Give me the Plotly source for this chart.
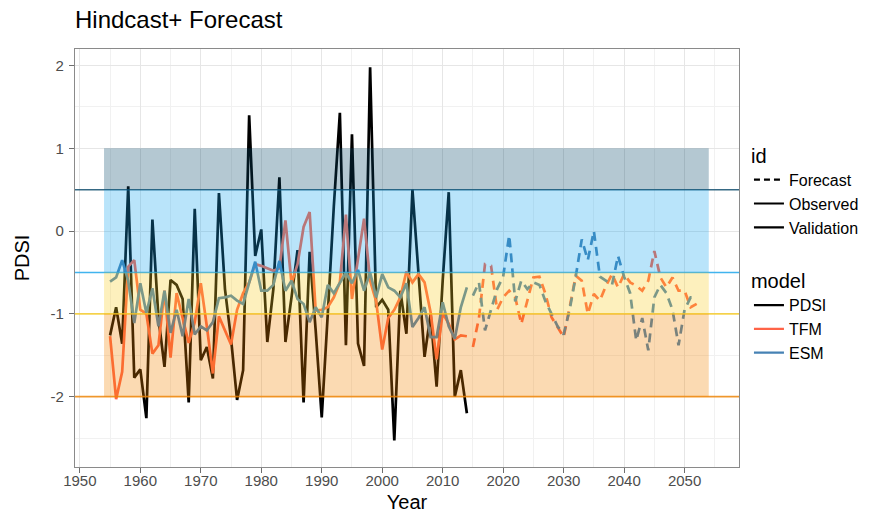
import plotly.graph_objects as go

# ---- data -------------------------------------------------------------
hind_years = list(range(1955, 2015))
fc_years = list(range(2015, 2053))

pdsi_obs = [
    -1.26, -0.92, -1.36, 0.54, -1.77, -1.67, -2.26, 0.14, -1.05, -1.64,
    -0.59, -0.65, -0.82, -2.07, 0.27, -1.56, -1.40, -1.78, 0.46, -0.70,
    -1.30, -2.04, -1.68, 1.40, -0.30, 0.02, -1.34, -0.70, 0.65, -1.34,
    -0.80, -0.23, -2.07, -0.25, -1.20, -2.25, -1.00, 0.30, 1.43, -1.38,
    1.17, -1.36, -1.63, 1.98, -0.92, -0.83, -0.95, -2.53, -0.72, -1.24,
    0.50, -0.55, -1.52, -1.00, -1.88, -0.60, 0.47, -2.00, -1.68, -2.20,
]

tfm_val = [
    -1.27, -2.03, -1.70, -0.43, -0.35, -0.95, -1.00, -1.48, -1.38, -0.72,
    -1.53, -0.75, -1.05, -1.35, -1.10, -0.63, -1.15, -1.72, -1.03, -1.20,
    -1.37, -0.95, -0.75, -0.62, -0.40, -0.42, -0.45, -0.48, -0.45, 0.13,
    -0.63, -0.40, 0.05, 0.23, -0.96, -0.95, -0.92, -0.80, -0.62, 0.20,
    -0.82, -0.35, 0.15, -0.60, -0.85, -1.43, -1.05, -0.95, -0.80, -0.49,
    -0.62, -0.52, -0.62, -0.98, -1.55, -0.99, -1.12, -1.31, -1.26, -1.27,
]

esm_val = [
    -0.61, -0.56, -0.35, -0.60, -1.11, -0.63, -0.99, -0.69, -1.15, -0.72,
    -1.23, -0.95, -1.27, -0.82, -1.25, -1.15, -1.20, -1.10, -0.81, -0.80,
    -0.78, -0.84, -0.88, -0.62, -0.37, -0.72, -0.72, -0.65, -0.36, -0.72,
    -0.60, -0.82, -0.88, -1.10, -0.92, -1.04, -0.65, -0.75, -0.63, -0.50,
    -0.63, -0.47, -0.72, -0.50, -0.80, -0.52, -0.68, -0.72, -0.80, -0.63,
    -1.16, -1.05, -0.92, -1.28, -1.28, -0.86, -1.15, -1.30, -0.92, -0.68,
]

tfm_fc = [
    -1.40, -1.05, -0.40, -0.42, -0.95, -0.80, -0.72, -0.80, -1.12, -0.85,
    -0.56, -0.55, -0.76, -1.04, -1.16, -1.28, -0.92, -0.54, -0.60, -1.00,
    -0.76, -0.84, -0.66, -0.52, -0.68, -0.52, -0.62, -0.66, -0.72, -0.60,
    -0.24, -0.56, -0.68, -0.56, -0.72, -0.72, -0.92, -0.88,
]

esm_fc = [
    -0.78, -0.62, -1.20, -0.95, -0.70, -0.55, -0.05, -0.85, -0.60, -0.70,
    -0.62, -0.65, -0.85, -1.00, -1.15, -1.25, -0.95, -0.55, -0.10, -0.35,
    0.00, -0.55, -0.60, -0.65, -0.30, -0.55, -0.75, -1.32, -1.05, -1.44,
    -0.80, -0.65, -0.75, -0.95, -1.38, -0.95, -0.80, -0.80,
]

# drought classes: (lower, upper, fill colour)
band_lo = [0.5, -0.5, -1.0, -2.0]
band_hi = [1.0, 0.5, -0.5, -1.0]
band_col = ["rgb(8,72,105)", "rgb(22,165,238)", "rgb(248,205,38)", "rgb(242,132,0)"]
band_x0, band_x1 = 1954, 2054

x_ticks = list(range(1950, 2051, 10))
y_ticks = [-2, -1, 0, 1, 2]
y_tick_text = ["-2", "-1", "0", "1", "2"]

# ---- styling ----------------------------------------------------------
FONT = "Liberation Sans, Arial, Helvetica, sans-serif"
model_col = {"PDSI": "black", "TFM": "tomato", "ESM": "steelblue"}
LW = 2.7
DASH = "9px,6px"

fig = go.Figure()

series = [
    (hind_years, pdsi_obs, "PDSI", "solid"),
    (hind_years, tfm_val, "TFM", "solid"),
    (hind_years, esm_val, "ESM", "solid"),
    (fc_years, tfm_fc, "TFM", DASH),
    (fc_years, esm_fc, "ESM", DASH),
]
for xs, ys, model, dash in series:
    fig.add_trace(go.Scatter(
        x=xs, y=ys, mode="lines", showlegend=False, hoverinfo="skip",
        line=dict(color=model_col[model], width=LW, dash=dash),
    ))

# legend entries: line type by id, colour by model
for name, dash in [("Forecast", "6px,4px"), ("Observed", "solid"), ("Validation", "solid")]:
    fig.add_trace(go.Scatter(
        x=[None], y=[None], mode="lines", name=name, legend="legend",
        line=dict(color="black", width=2.2, dash=dash),
    ))
for name in ["PDSI", "TFM", "ESM"]:
    fig.add_trace(go.Scatter(
        x=[None], y=[None], mode="lines", name=name, legend="legend2",
        line=dict(color=model_col[name], width=2.2),
    ))

# translucent class bands drawn over the series, with a line at each lower bound
for lo, hi, col in zip(band_lo, band_hi, band_col):
    fig.add_shape(type="rect", xref="x", yref="y", x0=band_x0, x1=band_x1,
                  y0=lo, y1=hi, fillcolor=col, opacity=0.3,
                  line=dict(width=0), layer="above")
    fig.add_shape(type="line", xref="paper", yref="y", x0=0, x1=1,
                  y0=lo, y1=lo, opacity=0.8,
                  line=dict(color=col, width=1.6), layer="above")

axis_common = dict(
    showline=True, mirror=True, linecolor="#8a8a8a", linewidth=1.2,
    ticks="outside", ticklen=5, tickcolor="#6e6e6e", tickwidth=1,
    tickfont=dict(family=FONT, size=15, color="#4d4d4d"),
    showgrid=True, gridcolor="#e6e6e6", gridwidth=1.2, zeroline=False,
    automargin=False,
)

fig.update_layout(
    width=877, height=514,
    margin=dict(l=75, r=138, t=49, b=47, autoexpand=False),
    paper_bgcolor="white", plot_bgcolor="white",
    font=dict(family=FONT, color="black"),
    title=dict(text="Hindcast+ Forecast", x=0.0855, xanchor="left",
               y=0.962, yanchor="middle", xref="container",
               font=dict(family=FONT, size=24, color="black")),
    xaxis=dict(
        range=[1949.2, 2059.0], tickvals=x_ticks, ticklabelstandoff=-5,
        minor=dict(dtick=5, tick0=1955, showgrid=True, gridcolor="#f1f1f1", gridwidth=1),
        title=dict(text="Year", font=dict(family=FONT, size=20, color="black"), standoff=6),
        **axis_common,
    ),
    yaxis=dict(
        range=[-2.85, 2.2], tickvals=y_ticks, ticktext=y_tick_text, ticklabelstandoff=2,
        minor=dict(dtick=0.5, tick0=0.5, showgrid=True, gridcolor="#f1f1f1", gridwidth=1),
        title=dict(text="PDSI", font=dict(family=FONT, size=20, color="black"), standoff=15),
        **axis_common,
    ),
    legend=dict(
        title=dict(text="id", font=dict(family=FONT, size=20, color="black")),
        font=dict(family=FONT, size=16, color="black"),
        x=1.015, xanchor="left", y=0.79, yanchor="top",
        bgcolor="rgba(0,0,0,0)", itemwidth=30, tracegroupgap=0,
    ),
    legend2=dict(
        title=dict(text="model", font=dict(family=FONT, size=20, color="black")),
        font=dict(family=FONT, size=16, color="black"),
        x=1.015, xanchor="left", y=0.49, yanchor="top",
        bgcolor="rgba(0,0,0,0)", itemwidth=30, tracegroupgap=0,
    ),
)

fig.write_html("out.html")
